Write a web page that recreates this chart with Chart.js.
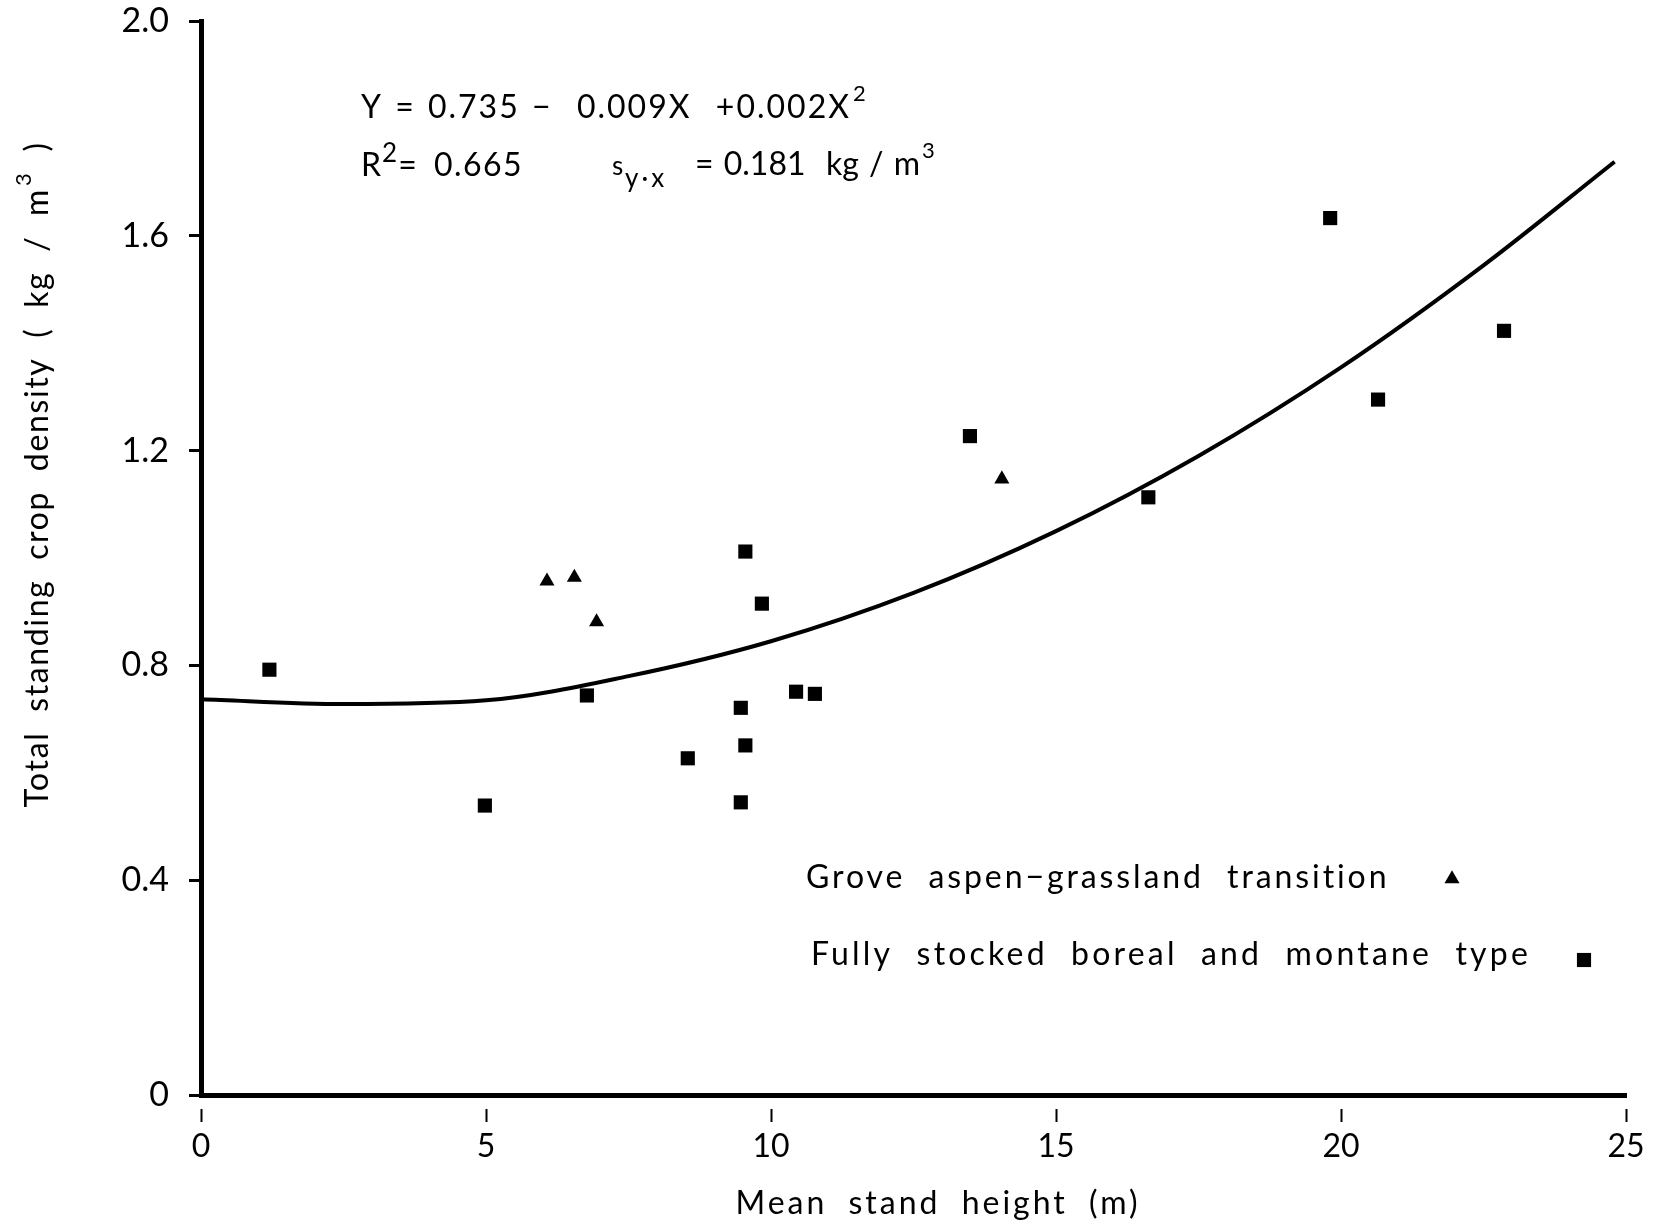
<!DOCTYPE html>
<html>
<head>
<meta charset="utf-8">
<script src="https://cdn.jsdelivr.net/npm/chart.js@4"></script>
<style>
  html, body { margin: 0; padding: 0; background: #ffffff; }
  #wrap { width: 1656px; height: 1226px; position: relative; }
</style>
</head>
<body>
<div id="wrap"><canvas id="c" width="1656" height="1226"></canvas></div>
<script>
// ---- data ----
const borealX = [1.2, 4.98, 6.77, 8.54, 9.47, 9.55, 9.47, 9.55, 9.84, 10.44, 10.77, 13.49, 16.62, 19.81, 20.65, 22.86];
const borealY = [0.792, 0.539, 0.744, 0.627, 0.721, 0.651, 0.545, 1.012, 0.915, 0.751, 0.747, 1.227, 1.113, 1.633, 1.295, 1.423];
const aspenX = [6.07, 6.55, 6.94, 14.05];
const aspenY = [0.957, 0.964, 0.881, 1.147];
const curveX = [0, 2.5, 5, 7.5, 10, 12.5, 15, 17.5, 20, 22.5, 24.8];
const curveY = [0.737, 0.728, 0.735, 0.780, 0.845, 0.935, 1.050, 1.190, 1.355, 1.545, 1.738];
const xTickValues = [0, 5, 10, 15, 20, 25];
const xTickLabels = ['0', '5', '10', '15', '20', '25'];
const yTickValues = [0, 0.4, 0.8, 1.2, 1.6, 2.0];
const yTickLabels = ['0', '0.4', '0.8', '1.2', '1.6', '2.0'];
const seriesNames = ['Grove aspen\u2212grassland transition', 'Fully stocked boreal and montane type'];
const xTitle = 'Mean stand height (m)';
const yTitle = 'Total standing crop density ( kg / m';

const FONT = 'Lato, "Open Sans", sans-serif';

function zip(xs, ys) { return xs.map((x, i) => ({ x: x, y: ys[i] })); }

function setFont(ctx, size, ls, ws) {
  ctx.font = size + 'px ' + FONT;
  ctx.letterSpacing = (ls || 0) + 'px';
  ctx.wordSpacing = (ws || 0) + 'px';
}
function rawWidth(ctx, text, size) {
  setFont(ctx, size, 0, 0);
  return ctx.measureText(text).width;
}
function countSpaces(t) { return (t.match(/ /g) || []).length; }
// letter spacing that makes `text` span `target` px, given word spacing ws
function fitLS(ctx, text, size, ws, target) {
  const w0 = rawWidth(ctx, text, size);
  return Math.max(0, (target - w0 - ws * countSpaces(text)) / text.length);
}
function runWidth(ctx, r) {
  const w0 = rawWidth(ctx, r.t, r.size);
  return w0 + (r.ls || 0) * r.t.length + (r.ws || 0) * countSpaces(r.t);
}
function drawRuns(ctx, runs, x, y) {
  let cx = x;
  runs.forEach(r => {
    if (r.at !== undefined) cx = r.at;
    setFont(ctx, r.size, r.ls, r.ws);
    ctx.fillText(r.t, cx, y + (r.dy || 0));
    cx += runWidth(ctx, r) + (r.gap || 0);
  });
  return cx - x;
}

const textPlugin = {
  id: 'figureText',
  afterDraw(chart) {
    const ctx = chart.ctx;
    ctx.save();
    ctx.fillStyle = '#000';
    ctx.textAlign = 'left';
    ctx.textBaseline = 'alphabetic';

    // regression equation
    const eq1 = 'Y = 0.735 \u2212  0.009X  +0.002X';
    drawRuns(ctx, [
      { t: eq1, size: 32, ws: 2, ls: fitLS(ctx, eq1, 32, 2, 490), gap: 2 },
      { t: '2', size: 22, dy: -17 }
    ], 361, 118);
    drawRuns(ctx, [
      { t: 'R', size: 32, ls: 1 },
      { t: '2', size: 26, dy: -14, gap: 1 },
      { t: '= 0.665', size: 32, ls: 1.5, ws: 6 }
    ], 361, 176);
    const eq3 = '= 0.181  kg / m';
    drawRuns(ctx, [
      { t: 's', size: 26, at: 612 },
      { t: 'y\u00b7x', size: 26, ls: 3, dy: 12, at: 625 },
      { t: eq3, size: 32, ws: 2, ls: fitLS(ctx, eq3, 32, 2, 224), at: 695, gap: 2 },
      { t: '3', size: 22, dy: -17 }
    ], 612, 175);

    // legend (text with marker to the right)
    const lg0 = seriesNames[0], lg1 = seriesNames[1];
    drawRuns(ctx, [{ t: lg0, size: 32, ws: 12, ls: fitLS(ctx, lg0, 32, 12, 584) }], 806, 888);
    drawRuns(ctx, [{ t: lg1, size: 32, ws: 12, ls: fitLS(ctx, lg1, 32, 12, 720) }], 811, 965);
    const r0 = chart.data.datasets[0].pointRadius;
    const r1 = chart.data.datasets[1].pointRadius;
    const tx = 1452, ty = 879;
    ctx.beginPath();
    ctx.moveTo(tx, ty - r0);
    ctx.lineTo(tx + r0 * Math.sin(2 * Math.PI / 3), ty - r0 * Math.cos(2 * Math.PI / 3));
    ctx.lineTo(tx + r0 * Math.sin(4 * Math.PI / 3), ty - r0 * Math.cos(4 * Math.PI / 3));
    ctx.closePath();
    ctx.fill();
    const s = r1 * Math.SQRT1_2;
    ctx.fillRect(1584 - s, 960 - s, 2 * s, 2 * s);

    // x axis title
    drawRuns(ctx, [{ t: xTitle, size: 32, ws: 10, ls: fitLS(ctx, xTitle, 32, 10, 405) }], 938 - 405 / 2, 1214);

    // y axis title (rotated)
    ctx.translate(48, 475);
    ctx.rotate(-Math.PI / 2);
    const supW = rawWidth(ctx, '3', 22) + 4;
    const tailW = rawWidth(ctx, ' )', 32) + 12;
    const yls = fitLS(ctx, yTitle, 32, 10, 665 - supW - tailW);
    drawRuns(ctx, [
      { t: yTitle, size: 32, ls: yls, ws: 10, gap: 2 },
      { t: '3', size: 22, dy: -17, gap: 2 },
      { t: ' )', size: 32, ls: yls, ws: 10 }
    ], -665 / 2, 0);
    ctx.restore();
  }
};

const chart = new Chart(document.getElementById('c'), {
  type: 'scatter',
  data: {
    datasets: [
      {
        label: seriesNames[0],
        data: zip(aspenX, aspenY),
        pointStyle: 'triangle',
        pointRadius: 8.7,
        pointHoverRadius: 8.7,
        backgroundColor: '#000',
        borderColor: '#000',
        borderWidth: 0,
        showLine: false
      },
      {
        label: seriesNames[1],
        data: zip(borealX, borealY),
        pointStyle: 'rect',
        pointRadius: 10,
        pointHoverRadius: 10,
        backgroundColor: '#000',
        borderColor: '#000',
        borderWidth: 0,
        showLine: false
      },
      {
        label: 'fit',
        data: zip(curveX, curveY),
        showLine: true,
        pointRadius: 0,
        borderColor: '#000',
        borderWidth: 4,
        cubicInterpolationMode: 'monotone',
        fill: false
      }
    ]
  },
  options: {
    responsive: false,
    animation: false,
    events: [],
    layout: { padding: { left: 0, right: 30, top: 21, bottom: 0 } },
    plugins: {
      legend: { display: false },
      tooltip: { enabled: false },
      title: { display: false }
    },
    scales: {
      x: {
        type: 'linear',
        position: 'bottom',
        min: 0,
        max: 25,
        afterBuildTicks: (scale) => { scale.ticks = xTickValues.map(v => ({ value: v })); },
        afterFit: (scale) => { scale.height = 131; scale.paddingLeft = 0; scale.paddingRight = 0; },
        border: { display: true, color: '#000', width: 5 },
        grid: {
          display: true,
          drawOnChartArea: false,
          drawTicks: true,
          tickLength: 27,
          tickWidth: 2,
          tickColor: '#000',
          tickBorderDash: [0, 11, 16, 0]
        },
        ticks: {
          color: '#000',
          padding: 5,
          font: { family: FONT, size: 32 },
          callback: (v) => { const i = xTickValues.indexOf(v); return i >= 0 ? xTickLabels[i] : ''; }
        },
        title: { display: false }
      },
      y: {
        type: 'linear',
        position: 'left',
        min: 0,
        max: 2,
        afterBuildTicks: (scale) => { scale.ticks = yTickValues.map(v => ({ value: v })); },
        afterFit: (scale) => { scale.width = 201; scale.paddingTop = 0; scale.paddingBottom = 0; },
        border: { display: true, color: '#000', width: 5 },
        grid: {
          display: true,
          drawOnChartArea: false,
          drawTicks: true,
          tickLength: 12,
          tickWidth: 3,
          tickColor: '#000'
        },
        ticks: {
          color: '#000',
          padding: 20,
          font: { family: FONT, size: 34 },
          callback: (v) => { const i = yTickValues.findIndex(t => Math.abs(t - v) < 1e-9); return i >= 0 ? yTickLabels[i] : ''; }
        },
        title: { display: false }
      }
    }
  },
  plugins: [textPlugin]
});
</script>
</body>
</html>
